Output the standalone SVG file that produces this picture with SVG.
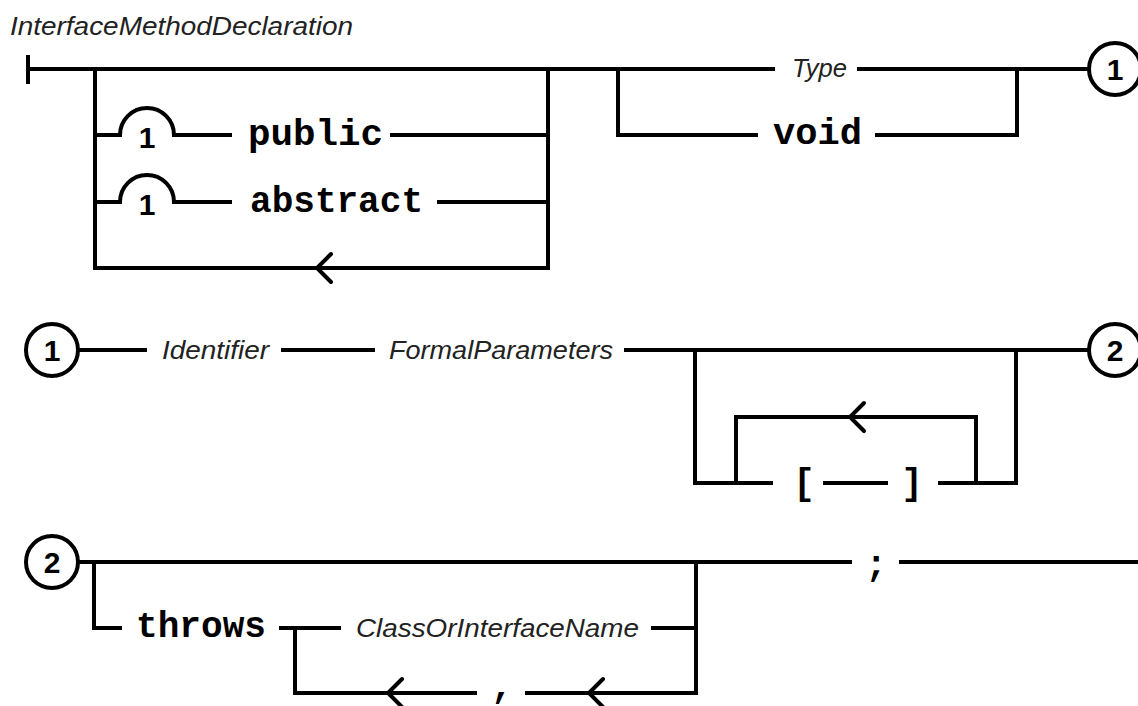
<svg xmlns="http://www.w3.org/2000/svg" width="1138" height="706" viewBox="0 0 1138 706">
<style>
.ln{fill:none;stroke:#000;stroke-width:4;stroke-linecap:butt;stroke-linejoin:miter}
.ar{fill:none;stroke:#000;stroke-width:4;stroke-linecap:round;stroke-linejoin:miter}
.nt{font-family:"Liberation Sans",Arial,sans-serif;font-style:italic;font-size:25px;fill:#222}
.kw{font-family:"Liberation Mono","Courier New",monospace;font-weight:bold;font-size:36px;fill:#000}
.pk{font-family:"Liberation Mono","Courier New",monospace;font-weight:bold;font-size:36px;fill:#000;text-anchor:middle}
.dg{font-family:"Liberation Sans",Arial,sans-serif;font-weight:bold;font-size:30px;fill:#000;text-anchor:middle}
.cc{fill:#fff;stroke:#000;stroke-width:4}
</style>
<rect width="1138" height="706" fill="#fff"/>
<g id="connectors">
<path class="ln" d="M28,55 V84"/>
<path class="ln" d="M28,69 H775"/>
<path class="ln" d="M857,69 H1089"/>
<path class="ln" d="M95,69 V268 H548 V69"/>
<path class="ln" d="M95,135 H120 A27,27 0 0 1 174,135 H232"/>
<path class="ln" d="M390,135 H548"/>
<path class="ln" d="M95,202 H120 A27,27 0 0 1 174,202 H232"/>
<path class="ln" d="M437,202 H548"/>
<path class="ln" d="M618,69 V135 H758"/>
<path class="ln" d="M875,135 H1017 V69"/>
<path class="ar" d="M331,254 L317,268 L331,282"/>
<path class="ln" d="M79,350 H147"/>
<path class="ln" d="M281,350 H375"/>
<path class="ln" d="M624,350 H1089"/>
<path class="ln" d="M695,350 V483 H773"/>
<path class="ln" d="M823,483 H888"/>
<path class="ln" d="M938,483 H1016 V350"/>
<path class="ln" d="M736,483 V417 H976 V483"/>
<path class="ar" d="M864,403 L850,417 L864,431"/>
<path class="ln" d="M79,562 H852"/>
<path class="ln" d="M899,562 H1138"/>
<path class="ln" d="M94,562 V628 H122"/>
<path class="ln" d="M279,628 H341"/>
<path class="ln" d="M295,628 V693 H477"/>
<path class="ln" d="M525,693 H696 V562"/>
<path class="ln" d="M651,628 H696"/>
<path class="ar" d="M402,679 L388,693 L402,707"/>
<path class="ar" d="M603,679 L589,693 L603,707"/>
</g>
<g id="title"><text class="nt" x="10" y="35" textLength="343" lengthAdjust="spacingAndGlyphs">InterfaceMethodDeclaration</text></g>
<g id="restrict1a"><text class="dg" x="147" y="148">1</text></g>
<g id="restrict1b"><text class="dg" x="147" y="215">1</text></g>
<g id="kw-public"><text class="kw" x="248" y="145" textLength="135" lengthAdjust="spacingAndGlyphs">public</text></g>
<g id="kw-abstract"><text class="kw" x="250" y="212" textLength="173" lengthAdjust="spacingAndGlyphs">abstract</text></g>
<g id="nt-type"><text class="nt" x="792" y="77" textLength="55" lengthAdjust="spacingAndGlyphs">Type</text></g>
<g id="kw-void"><text class="kw" x="773" y="144" textLength="89" lengthAdjust="spacingAndGlyphs">void</text></g>
<g id="conn1-out"><circle class="cc" cx="1115" cy="69" r="26"/><text class="dg" x="1115" y="80">1</text></g>
<g id="conn1-in"><circle class="cc" cx="52" cy="350" r="26"/><text class="dg" x="52" y="361">1</text></g>
<g id="nt-identifier"><text class="nt" x="162" y="359" textLength="107" lengthAdjust="spacingAndGlyphs">Identifier</text></g>
<g id="nt-formalparameters"><text class="nt" x="389" y="359" textLength="224" lengthAdjust="spacingAndGlyphs">FormalParameters</text></g>
<g id="kw-lbracket"><text class="pk" x="804" y="494">[</text></g>
<g id="kw-rbracket"><text class="pk" x="912" y="494">]</text></g>
<g id="conn2-out"><circle class="cc" cx="1115" cy="350" r="26"/><text class="dg" x="1115" y="361">2</text></g>
<g id="conn2-in"><circle class="cc" cx="52" cy="562" r="26"/><text class="dg" x="52" y="573">2</text></g>
<g id="kw-throws"><text class="kw" x="136" y="637" textLength="130" lengthAdjust="spacingAndGlyphs">throws</text></g>
<g id="nt-classorinterfacename"><text class="nt" x="356" y="637" textLength="283" lengthAdjust="spacingAndGlyphs">ClassOrInterfaceName</text></g>
<g id="kw-comma"><text class="pk" x="502" y="697">,</text></g>
<g id="kw-semicolon"><text class="pk" x="876" y="576">;</text></g>
</svg>
